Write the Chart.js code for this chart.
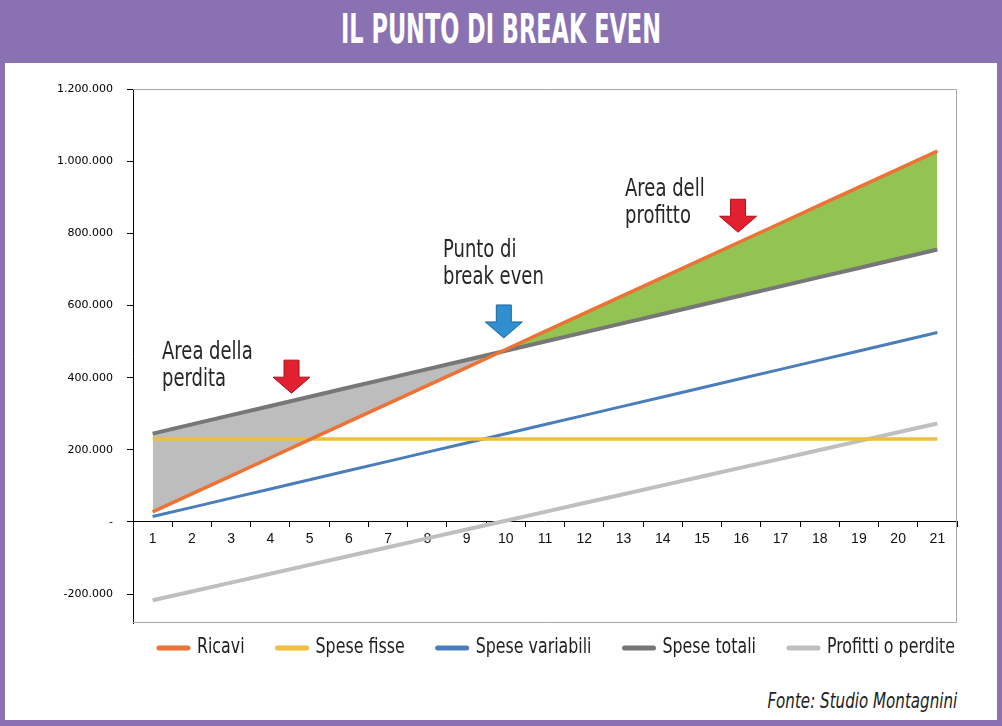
<!DOCTYPE html>
<html lang="it">
<head>
<meta charset="utf-8">
<title>Il punto di break even</title>
<script src="https://cdn.jsdelivr.net/npm/chart.js@4.4.0/dist/chart.umd.min.js"></script>
<style>
  html, body { margin: 0; padding: 0; }
  body {
    width: 1002px; height: 726px; overflow: hidden; position: relative;
    background: #8a72b2;
    font-family: "Liberation Sans Narrow", "DejaVu Sans Condensed", sans-serif;
  }
  #title {
    position: absolute; left: 0; top: 0; width: 1002px; height: 62px;
    line-height: 58px; text-align: center; color: #fff;
    font-weight: bold; font-size: 41px; white-space: nowrap;
  }
  #title span { display: inline-block; transform-origin: center; }
  #panel { position: absolute; left: 5px; top: 63px; width: 992px; height: 657px; background: #fff; }
  #chart { position: absolute; left: 0; top: 0; }
  #source {
    position: absolute; right: 40px; top: 626px; line-height: 24px;
    font-size: 21px; font-style: italic; color: #222; white-space: nowrap;
    transform-origin: right center;
  }
</style>
</head>
<body>
<div id="title"><span>IL PUNTO DI BREAK EVEN</span></div>
<div id="panel">
  <canvas id="chart" width="992" height="610"></canvas>
  <div id="source">Fonte: Studio Montagnini</div>
</div>
<script>
// periods on the x axis
const labels = ['1', '2', '3', '4', '5', '6', '7', '8', '9', '10', '11',
  '12', '13', '14', '15', '16', '17', '18', '19', '20', '21'];

// values
const ricavi = [28000, 78000, 128000, 178000, 228000, 278000, 328000, 378000,
  428000, 478000, 528000, 578000, 628000, 678000, 728000, 778000, 828000,
  878000, 928000, 978000, 1028000];
const speseFisse = [230000, 230000, 230000, 230000, 230000, 230000, 230000,
  230000, 230000, 230000, 230000, 230000, 230000, 230000, 230000, 230000,
  230000, 230000, 230000, 230000, 230000];
const speseVariabili = [15000, 40500, 66000, 91500, 117000, 142500, 168000,
  193500, 219000, 244500, 270000, 295500, 321000, 346500, 372000, 397500,
  423000, 448500, 474000, 499500, 525000];
const speseTotali = [245000, 270500, 296000, 321500, 347000, 372500, 398000,
  423500, 449000, 474500, 500000, 525500, 551000, 576500, 602000, 627500,
  653000, 678500, 704000, 729500, 755000];
const profitti = [-217000, -192500, -168000, -143500, -119000, -94500, -70000,
  -45500, -21000, 3500, 28000, 52500, 77000, 101500, 126000, 150500, 175000,
  199500, 224000, 248500, 273000];

const seriesNames = ['Ricavi', 'Spese fisse', 'Spese variabili', 'Spese totali', 'Profitti o perdite'];
const seriesColors = ['#eb7335', '#f0bd3e', '#4a7ebb', '#777777', '#bfbfbf'];
const seriesWidths = [3.5, 3.5, 3, 4, 4];

const yTicks = [-200000, 0, 200000, 400000, 600000, 800000, 1000000, 1200000];

// notes placed in data coordinates (category index, value)
const notes = [
  { lines: ['Area della', 'perdita'], at: [0.24, 452000] },
  { lines: ['Punto di', 'break even'], at: [7.40, 734000] },
  { lines: ['Area dell', 'profitto'], at: [12.04, 903000] }
];
const arrows = [
  { at: [3.54, 357000], fill: '#e3202f', edge: '#a3141f' },
  { at: [8.95, 510000], fill: '#2f8fd0', edge: '#1d6499' },
  { at: [14.92, 803000], fill: '#e3202f', edge: '#a3141f' }
];

const textFont = '"Liberation Sans Narrow", "DejaVu Sans Condensed", sans-serif';

function formatThousands(v) {
  if (v === 0) return '-';
  const s = Math.abs(v).toString().replace(/\B(?=(\d{3})+(?!\d))/g, '.');
  return (v < 0 ? '-' : '') + s;
}

// the original lettering is a very narrow face: work out how much to squeeze ours
const probe = document.createElement('canvas').getContext('2d');
probe.font = '22px ' + textFont;
const squeeze = 128 / probe.measureText('Profitti o perdite').width;

function narrowText(ctx, text, x, y) {
  ctx.save();
  ctx.translate(x, y);
  ctx.scale(squeeze, 1);
  ctx.fillText(text, 0, 0);
  ctx.restore();
}

const titleSpan = document.querySelector('#title span');
titleSpan.style.transform = 'scaleX(' + (320 / titleSpan.offsetWidth) + ')';
document.getElementById('source').style.transform = 'scaleX(' + squeeze + ')';

// gray border on top, right and bottom of the plot area
const plotFrame = {
  id: 'plotFrame',
  beforeDatasetsDraw(chart) {
    const { ctx, chartArea: a } = chart;
    ctx.save();
    ctx.strokeStyle = '#a6a6a6';
    ctx.lineWidth = 1;
    ctx.beginPath();
    ctx.moveTo(a.left, a.top + 0.5);
    ctx.lineTo(a.right - 0.5, a.top + 0.5);
    ctx.lineTo(a.right - 0.5, a.bottom - 0.5);
    ctx.lineTo(a.left, a.bottom - 0.5);
    ctx.stroke();
    ctx.restore();
  }
};

// text notes and arrows
const notesPlugin = {
  id: 'notes',
  afterDatasetsDraw(chart) {
    const { ctx, scales: { x, y } } = chart;
    ctx.save();
    ctx.font = '25px ' + textFont;
    ctx.fillStyle = '#262626';
    ctx.textBaseline = 'alphabetic';
    notes.forEach((n) => {
      const px = x.getPixelForValue(n.at[0]);
      const py = y.getPixelForValue(n.at[1]);
      n.lines.forEach((line, i) => narrowText(ctx, line, px, py + i * 27));
    });
    arrows.forEach((a) => {
      const tx = x.getPixelForValue(a.at[0]);
      const ty = y.getPixelForValue(a.at[1]);
      ctx.beginPath();
      ctx.moveTo(tx, ty);
      ctx.lineTo(tx - 18.5, ty - 16);
      ctx.lineTo(tx - 7.5, ty - 16);
      ctx.lineTo(tx - 7.5, ty - 33);
      ctx.lineTo(tx + 7.5, ty - 33);
      ctx.lineTo(tx + 7.5, ty - 16);
      ctx.lineTo(tx + 18.5, ty - 16);
      ctx.closePath();
      ctx.fillStyle = a.fill;
      ctx.fill();
      ctx.strokeStyle = a.edge;
      ctx.lineWidth = 1;
      ctx.stroke();
    });
    ctx.restore();
  }
};

// legend drawn under the plot, right aligned with it
const lineLegend = {
  id: 'lineLegend',
  afterDraw(chart) {
    const { ctx, chartArea: a } = chart;
    const sets = chart.data.datasets;
    ctx.save();
    ctx.font = '22px ' + textFont;
    const sample = 35, gap = 6, spacing = 30;
    const widths = sets.map((d) => ctx.measureText(d.label).width * squeeze);
    const total = widths.reduce((s, w) => s + sample + gap + w, 0) + spacing * (sets.length - 1);
    let px = a.right - 2 - total;
    const py = a.bottom + 24;
    ctx.textBaseline = 'middle';
    sets.forEach((d, i) => {
      ctx.strokeStyle = d.borderColor;
      ctx.lineWidth = 5;
      ctx.lineCap = 'round';
      ctx.beginPath();
      ctx.moveTo(px + 3, py + 1);
      ctx.lineTo(px + sample - 3, py + 1);
      ctx.stroke();
      ctx.fillStyle = '#1e1e1e';
      narrowText(ctx, d.label, px + sample + gap, py);
      px += sample + gap + widths[i] + spacing;
    });
    ctx.restore();
  }
};

const seriesData = [ricavi, speseFisse, speseVariabili, speseTotali, profitti];

const datasets = seriesData.map((values, i) => ({
  label: seriesNames[i],
  data: values,
  borderColor: seriesColors[i],
  backgroundColor: seriesColors[i],
  borderWidth: seriesWidths[i],
  pointRadius: 0,
  tension: 0,
  fill: false
}));
// area between revenue and total costs: gray for loss, green for profit
datasets[0].fill = { target: 3, above: '#92c353', below: '#bdbdbd' };

new Chart(document.getElementById('chart'), {
  type: 'line',
  data: { labels: labels, datasets: datasets },
  options: {
    responsive: false,
    animation: false,
    layout: { padding: { left: 52, top: 26, right: 40, bottom: 50 } },
    plugins: {
      legend: { display: false },
      tooltip: { enabled: false },
      filler: { drawTime: 'beforeDatasetsDraw' }
    },
    scales: {
      x: {
        position: { y: 0 },
        offset: true,
        grid: { offset: true, drawOnChartArea: false, tickLength: 5, tickColor: '#000' },
        border: { color: '#000', width: 1 },
        ticks: {
          color: '#111', padding: 4, maxRotation: 0, autoSkip: false,
          font: { family: '"Liberation Sans", Arial, sans-serif', size: 14 }
        }
      },
      y: {
        min: -280000,
        max: 1200000,
        afterBuildTicks: (scale) => { scale.ticks = yTicks.map((v) => ({ value: v })); },
        afterFit: (scale) => { scale.width = 76; },
        grid: { drawOnChartArea: false, tickLength: 6, tickColor: '#000' },
        border: { color: '#000', width: 1 },
        ticks: {
          color: '#000', padding: 14,
          font: { family: '"DejaVu Sans", Verdana, sans-serif', size: 11 },
          callback: (v) => formatThousands(v)
        }
      }
    }
  },
  plugins: [plotFrame, notesPlugin, lineLegend]
});
</script>
</body>
</html>
